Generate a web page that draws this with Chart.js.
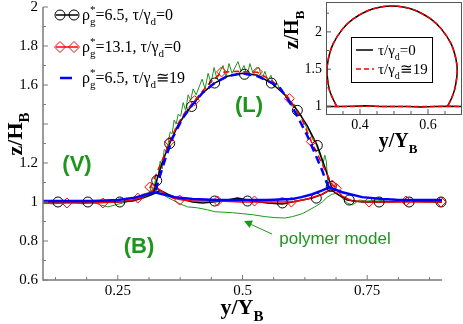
<!DOCTYPE html>
<html>
<head>
<meta charset="utf-8">
<script src="https://cdn.jsdelivr.net/npm/chart.js@4.4.1/dist/chart.umd.min.js"></script>
<style>
    body { margin: 0; background: #fff; }
    #wrap { position: relative; width: 463px; height: 324px; }
    #main { position: absolute; left: 0; top: 0; }
    #inset { position: absolute; left: 270px; top: 0; }
</style>
</head>
<body>
<div id="wrap">
    <canvas id="main" width="463" height="324"></canvas>
    <canvas id="inset" width="193" height="160"></canvas>
</div>
<script>
//Main chart data (y/Y_B -> z/H_B)

//rho*g=6.5, tau/gamma_d=0 (black, circles)
let blackBaseX = [0.10, 0.15, 0.20, 0.25, 0.28, 0.30, 0.32, 0.335, 0.35, 0.37, 0.40, 0.42, 0.44, 0.46, 0.49, 0.52, 0.55, 0.58, 0.60, 0.62, 0.64, 0.66, 0.677, 0.69, 0.71, 0.74, 0.78, 0.84, 0.90];
let blackBaseY = [1.00, 1.00, 1.00, 1.00, 1.005, 1.02, 1.04, 1.06, 1.04, 1.02, 1.00, 0.995, 1.00, 1.005, 1.02, 1.005, 0.995, 0.99, 1.00, 1.01, 1.02, 1.04, 1.065, 1.04, 1.01, 1.00, 1.00, 1.005, 1.00];
let blackCapX = [0.322, 0.328, 0.340, 0.354, 0.370, 0.385, 0.400, 0.420, 0.444, 0.470, 0.500, 0.530, 0.558, 0.585, 0.610, 0.630, 0.650, 0.665, 0.678, 0.685];
let blackCapY = [1.05, 1.11, 1.21, 1.30, 1.39, 1.45, 1.50, 1.56, 1.61, 1.645, 1.66, 1.65, 1.61, 1.55, 1.47, 1.39, 1.29, 1.18, 1.08, 1.05];
let blackMarkX = [0.130, 0.190, 0.254, 0.444, 0.510, 0.580, 0.648, 0.714, 0.774, 0.834, 0.898, 0.328, 0.354, 0.398, 0.444, 0.504, 0.558, 0.610, 0.650, 0.678];
let blackMarkY = [1.00, 1.00, 1.00, 1.005, 1.005, 0.995, 1.02, 1.01, 1.00, 1.00, 1.00, 1.11, 1.30, 1.49, 1.61, 1.655, 1.61, 1.47, 1.29, 1.08];

//rho*g=13.1, tau/gamma_d=0 (red, diamonds)
let redBaseX = [0.10, 0.15, 0.20, 0.25, 0.28, 0.30, 0.315, 0.33, 0.345, 0.36, 0.38, 0.40, 0.45, 0.50, 0.55, 0.60, 0.63, 0.66, 0.68, 0.69, 0.70, 0.72, 0.76, 0.82, 0.90];
let redBaseY = [0.995, 0.995, 0.995, 1.00, 1.01, 1.025, 1.05, 1.07, 1.04, 1.02, 1.01, 1.005, 1.005, 1.00, 1.00, 1.00, 1.015, 1.04, 1.07, 1.06, 1.03, 1.005, 1.00, 1.00, 1.00];
let redCapX = [0.314, 0.325, 0.340, 0.354, 0.370, 0.385, 0.404, 0.430, 0.458, 0.490, 0.530, 0.560, 0.594, 0.620, 0.638, 0.655, 0.668, 0.680, 0.688];
let redCapY = [1.07, 1.13, 1.22, 1.31, 1.40, 1.46, 1.52, 1.60, 1.665, 1.67, 1.665, 1.62, 1.53, 1.42, 1.31, 1.22, 1.15, 1.09, 1.07];
let redMarkX = [0.148, 0.220, 0.290, 0.374, 0.450, 0.524, 0.598, 0.688, 0.754, 0.828, 0.898, 0.314, 0.354, 0.404, 0.458, 0.530, 0.594, 0.638, 0.680];
let redMarkY = [0.995, 0.995, 1.02, 1.01, 1.005, 1.005, 1.00, 1.07, 1.00, 1.005, 1.00, 1.077, 1.31, 1.52, 1.667, 1.667, 1.53, 1.31, 1.087];

//rho*g=6.5, tau/gamma_d~19 (blue)
let blueBaseX = [0.10, 0.20, 0.25, 0.28, 0.31, 0.324, 0.34, 0.364, 0.40, 0.45, 0.484, 0.55, 0.60, 0.618, 0.64, 0.66, 0.674, 0.70, 0.74, 0.78, 0.808, 0.85, 0.90];
let blueBaseY = [1.005, 1.005, 1.01, 1.02, 1.04, 1.05, 1.04, 1.025, 1.015, 1.01, 1.01, 1.01, 1.015, 1.025, 1.04, 1.06, 1.075, 1.05, 1.025, 1.015, 1.012, 1.01, 1.01];
let blueCapX = [0.326, 0.334, 0.345, 0.36, 0.38, 0.40, 0.42, 0.444, 0.47, 0.50, 0.53, 0.56, 0.574, 0.595, 0.614, 0.63, 0.64, 0.65, 0.66, 0.667, 0.674];
let blueCapY = [1.06, 1.13, 1.22, 1.33, 1.43, 1.50, 1.56, 1.61, 1.645, 1.66, 1.645, 1.61, 1.59, 1.51, 1.42, 1.34, 1.28, 1.22, 1.16, 1.11, 1.07];

//polymer model (green)
let greenCapX = [0.312, 0.318, 0.322, 0.327, 0.331, 0.335, 0.339, 0.343, 0.347, 0.351, 0.355, 0.359, 0.363, 0.367, 0.371, 0.376, 0.381, 0.386, 0.391, 0.396, 0.401, 0.407, 0.413, 0.419, 0.425, 0.431, 0.437, 0.443, 0.449, 0.455, 0.461, 0.467, 0.473, 0.479, 0.485, 0.491, 0.497, 0.503, 0.509, 0.515, 0.521, 0.527, 0.533, 0.539, 0.545, 0.551, 0.557, 0.563, 0.569, 0.575, 0.581, 0.587, 0.593, 0.599, 0.605, 0.611, 0.617, 0.623, 0.629, 0.635, 0.641, 0.647, 0.652, 0.657, 0.661, 0.665, 0.668, 0.671, 0.675];
let greenCapY = [1.04, 1.08, 1.06, 1.14, 1.13, 1.21, 1.17, 1.27, 1.26, 1.30, 1.36, 1.35, 1.42, 1.40, 1.45, 1.44, 1.51, 1.47, 1.55, 1.52, 1.58, 1.55, 1.59, 1.63, 1.58, 1.66, 1.61, 1.69, 1.63, 1.67, 1.70, 1.64, 1.71, 1.66, 1.69, 1.72, 1.67, 1.70, 1.65, 1.71, 1.66, 1.68, 1.69, 1.63, 1.67, 1.62, 1.65, 1.59, 1.61, 1.58, 1.56, 1.54, 1.52, 1.49, 1.50, 1.44, 1.45, 1.41, 1.38, 1.36, 1.32, 1.30, 1.26, 1.23, 1.19, 1.24, 1.21, 1.10, 1.05];
let greenBaseX = [0.10, 0.12, 0.14, 0.16, 0.18, 0.20, 0.215, 0.23, 0.245, 0.26, 0.28, 0.30, 0.315, 0.33, 0.345, 0.36, 0.375, 0.39, 0.41, 0.43, 0.445, 0.46, 0.48, 0.50, 0.52, 0.545, 0.565, 0.585, 0.60, 0.62, 0.645, 0.66, 0.67, 0.68, 0.69, 0.70, 0.71, 0.72, 0.735, 0.75, 0.77, 0.80, 0.83, 0.86, 0.90];
let greenBaseY = [0.995, 0.99, 0.995, 1.00, 0.99, 1.00, 0.985, 0.975, 0.985, 0.995, 1.01, 1.04, 1.05, 1.065, 1.03, 1.01, 0.99, 0.975, 0.97, 0.96, 0.95, 0.948, 0.945, 0.94, 0.935, 0.925, 0.92, 0.918, 0.925, 0.94, 0.975, 1.00, 1.025, 1.04, 1.045, 1.02, 0.995, 0.985, 1.01, 1.005, 1.01, 1.00, 1.005, 1.00, 1.00];

//Main ticks (1.4 label sits under the axis title in the original)
let mainXTicks = [0.125, 0.1875, 0.25, 0.3125, 0.375, 0.4375, 0.5, 0.5625, 0.625, 0.6875, 0.75, 0.8125, 0.875];
let mainXLabels = [0.25, 0.5, 0.75];
let mainYTicks = [0.6, 0.7, 0.8, 0.9, 1, 1.1, 1.2, 1.3, 1.4, 1.5, 1.6, 1.7, 1.8, 1.9, 2];
let mainYMajor = [0.6, 0.8, 1, 1.2, 1.4, 1.6, 1.8, 2];
let mainYLabels = [0.6, 0.8, 1, 1.2, 1.6, 1.8, 2];

//Inset data
let insetCapX = [0.332, 0.320, 0.309, 0.303, 0.307, 0.321, 0.349, 0.380, 0.421, 0.461, 0.494, 0.527, 0.567, 0.608, 0.639, 0.668, 0.682, 0.686, 0.679, 0.669, 0.657];
let insetCapY = [1.00, 1.107, 1.24, 1.467, 1.64, 1.84, 2.04, 2.173, 2.28, 2.333, 2.347, 2.333, 2.28, 2.173, 2.04, 1.84, 1.64, 1.467, 1.24, 1.107, 1.00];
let insetBaseX = [0.30, 0.34, 0.38, 0.42, 0.46, 0.50, 0.54, 0.58, 0.62, 0.66, 0.70];
let insetBaseY0 = [1.00, 1.00, 1.005, 1.01, 1.00, 1.00, 1.00, 0.995, 1.00, 1.005, 1.00];
let insetBaseY19 = [1.00, 1.00, 1.00, 1.005, 1.00, 1.00, 1.00, 1.00, 1.00, 1.005, 1.00];
let insetXTicks = [0.35, 0.4, 0.45, 0.5, 0.55, 0.6, 0.65];
let insetXLabels = [0.4, 0.6];
let insetYTicks = [1, 1.25, 1.5, 1.75, 2, 2.25];
let insetYLabels = [1, 1.5, 2];

const SERIF = '"Liberation Serif", "Times New Roman", serif';
const SANS = '"Liberation Sans", Arial, sans-serif';
const GREEN = 'rgb(30,150,30)';
const AXIS = '#7a7a7a';

const pts = (xs, ys) => xs.map((x, i) => ({ x: x, y: ys[i] }));
const isIn = (v, list) => list.some(l => Math.abs(l - v) < 1e-6);

const line = (xs, ys, color, width, dash, tension) => ({
    data: pts(xs, ys),
    showLine: true,
    borderColor: color,
    borderWidth: width,
    borderDash: dash || [],
    pointRadius: 0,
    tension: tension || 0,
    fill: false,
});

const marks = (xs, ys, color, style, r) => ({
    data: pts(xs, ys),
    showLine: false,
    pointStyle: style,
    pointRadius: r,
    borderColor: color,
    pointBorderColor: color,
    pointBorderWidth: 1,
    backgroundColor: 'rgba(0,0,0,0)',
    pointBackgroundColor: 'rgba(0,0,0,0)',
    clip: false,
});

//Draws text with sub/superscripts. parts: [text, kind], kind '' | 'sub' | 'sup' | 'sup0' (no advance)
function drawRich(ctx, x, y, parts, size, weight, align) {
    const small = Math.round(size * 0.66);
    const fontOf = s => [weight, s + 'px', SERIF].filter(Boolean).join(' ');
    let total = 0;
    parts.forEach(p => {
        ctx.font = fontOf(p[1] ? small : size);
        if (p[1] !== 'sup0') total += ctx.measureText(p[0]).width;
    });
    let cx = align === 'center' ? x - total / 2 : x;
    ctx.textAlign = 'left';
    ctx.textBaseline = 'alphabetic';
    parts.forEach(p => {
        const k = p[1];
        ctx.font = fontOf(k ? small : size);
        let dy = 0;
        if (k === 'sub') dy = size * 0.3;
        if (k === 'sup' || k === 'sup0') dy = -size * 0.42;
        ctx.fillText(p[0], cx, y + dy);
        if (k !== 'sup0') cx += ctx.measureText(p[0]).width;
    });
}

function seg(ctx, x1, y1, x2, y2) {
    ctx.beginPath();
    ctx.moveTo(x1, y1);
    ctx.lineTo(x2, y2);
    ctx.stroke();
}

//inward tick marks on left and bottom
function drawTicks(chart, xTicks, xMajor, yTicks, yMajor) {
    const ctx = chart.ctx, a = chart.chartArea;
    ctx.lineWidth = 1;
    xTicks.forEach(v => {
        const px = chart.scales.x.getPixelForValue(v);
        seg(ctx, px, a.bottom, px, a.bottom - (isIn(v, xMajor) ? 5 : 3));
    });
    yTicks.forEach(v => {
        const py = chart.scales.y.getPixelForValue(v);
        seg(ctx, a.left, py, a.left + (isIn(v, yMajor) ? 5 : 3), py);
    });
}

function legendMark(ctx, kind, x, y, color) {
    ctx.strokeStyle = color;
    ctx.lineWidth = 1;
    ctx.beginPath();
    if (kind === 'circle') {
        ctx.arc(x, y, 5, 0, Math.PI * 2);
    } else {
        ctx.moveTo(x, y - 5.5); ctx.lineTo(x + 5.5, y); ctx.lineTo(x, y + 5.5); ctx.lineTo(x - 5.5, y);
        ctx.closePath();
    }
    ctx.stroke();
}

const mainDecor = {
    id: 'mainDecor',
    afterDraw(chart) {
        const ctx = chart.ctx, a = chart.chartArea;
        ctx.save();
        //axes
        ctx.strokeStyle = AXIS;
        ctx.lineWidth = 1.5;
        ctx.beginPath();
        ctx.moveTo(a.left, a.top); ctx.lineTo(a.left, a.bottom); ctx.lineTo(a.right, a.bottom);
        ctx.stroke();
        drawTicks(chart, mainXTicks, mainXLabels, mainYTicks, mainYMajor);

        //axis titles
        ctx.fillStyle = '#000';
        drawRich(ctx, 242, 314, [['y/Y', ''], ['B', 'sub']], 22, 'bold', 'center');
        ctx.save();
        ctx.translate(22, 134);
        ctx.rotate(-Math.PI / 2);
        drawRich(ctx, 0, 0, [['z/H', ''], ['B', 'sub']], 22, 'bold', 'center');
        ctx.restore();

        //region labels
        ctx.fillStyle = GREEN;
        ctx.font = 'bold 22px ' + SANS;
        ctx.textAlign = 'center';
        ctx.textBaseline = 'middle';
        ctx.fillText('(L)', 249, 106);
        ctx.fillText('(V)', 77, 165);
        ctx.fillText('(B)', 139, 247);
        ctx.font = '17px ' + SANS;
        ctx.fillText('polymer model', 335, 239);
        ctx.strokeStyle = GREEN;
        ctx.lineWidth = 1;
        seg(ctx, 272, 234, 250, 224);
        ctx.beginPath();
        ctx.moveTo(244, 221); ctx.lineTo(253, 220.5); ctx.lineTo(249.7, 228);
        ctx.closePath();
        ctx.fill();

        //legend
        const rows = [
            { y: 15, color: '#000', mark: 'circle', parts: [['ρ', ''], ['*', 'sup0'], ['g', 'sub'], ['=6.5, τ/γ', ''], ['d', 'sub'], ['=0', '']] },
            { y: 47, color: '#ff0000', mark: 'diamond', parts: [['ρ', ''], ['*', 'sup0'], ['g', 'sub'], ['=13.1, τ/γ', ''], ['d', 'sub'], ['=0', '']] },
            { y: 78, color: '#0000ff', mark: null, parts: [['ρ', ''], ['*', 'sup0'], ['g', 'sub'], ['=6.5, τ/γ', ''], ['d', 'sub'], ['≅19', '']] },
        ];
        rows.forEach(r => {
            ctx.strokeStyle = r.color;
            ctx.lineWidth = r.mark ? 1.5 : 2.5;
            seg(ctx, r.mark ? 56 : 60, r.y, r.mark ? 78 : 72, r.y);
            if (r.mark) {
                legendMark(ctx, r.mark, 60, r.y, r.color);
                legendMark(ctx, r.mark, 74, r.y, r.color);
            }
            ctx.fillStyle = '#000';
            drawRich(ctx, 82, r.y + 5, r.parts, 16, '', 'left');
        });
        ctx.restore();
    }
};

const insetDecor = {
    id: 'insetDecor',
    beforeDatasetsDraw(chart) {
        const ctx = chart.ctx, a = chart.chartArea;
        ctx.save();
        ctx.fillStyle = '#fff';
        ctx.fillRect(a.left, a.top, a.right - a.left, a.bottom - a.top);
        ctx.restore();
    },
    afterDraw(chart) {
        const ctx = chart.ctx, a = chart.chartArea;
        ctx.save();
        ctx.strokeStyle = '#555';
        ctx.lineWidth = 1;
        ctx.strokeRect(a.left + 0.5, a.top + 0.5, a.right - a.left - 1, a.bottom - a.top);
        drawTicks(chart, insetXTicks, insetXLabels, insetYTicks, insetYLabels);

        ctx.fillStyle = '#000';
        drawRich(ctx, 128, 147, [['y/Y', ''], ['B', 'sub']], 20, 'bold', 'center');
        ctx.save();
        ctx.translate(28, 30);
        ctx.rotate(-Math.PI / 2);
        drawRich(ctx, 0, 0, [['z/H', ''], ['B', 'sub']], 20, 'bold', 'center');
        ctx.restore();

        //inset legend
        ctx.fillStyle = '#fff';
        ctx.fillRect(81, 37, 81, 45);
        ctx.strokeStyle = '#000';
        ctx.strokeRect(81.5, 37.5, 81, 45);
        ctx.lineWidth = 1.5;
        ctx.strokeStyle = '#000';
        seg(ctx, 86, 50, 103, 50);
        ctx.strokeStyle = '#ff0000';
        ctx.setLineDash([5, 3]);
        seg(ctx, 86, 69, 104, 69);
        ctx.setLineDash([]);
        ctx.fillStyle = '#000';
        drawRich(ctx, 108, 55, [['τ/γ', ''], ['d', 'sub'], ['=0', '']], 15, '', 'left');
        drawRich(ctx, 108, 74, [['τ/γ', ''], ['d', 'sub'], ['≅19', '']], 15, '', 'left');
        ctx.restore();
    }
};

const scaleBase = (min, max, tickList, labelList, pad, size) => ({
    type: 'linear',
    min: min,
    max: max,
    grid: { display: false, drawTicks: false },
    border: { display: false },
    afterBuildTicks: s => { s.ticks = tickList.map(v => ({ value: v })); },
    ticks: {
        autoSkip: false,
        maxRotation: 0,
        padding: pad,
        color: '#000',
        font: { family: SERIF, size: size },
        callback: v => isIn(v, labelList) ? String(v) : '',
    },
});

//Main chart
let mainX = scaleBase(0.1, 0.9, mainXTicks, mainXLabels, 2, 15);
mainX.afterFit = s => { s.height = 44; s.paddingLeft = 0; s.paddingRight = 0; };
let mainY = scaleBase(0.6, 2, mainYTicks, mainYLabels, 5, 15);
mainY.afterFit = s => { s.width = 43; s.paddingTop = 0; s.paddingBottom = 0; };

const mainChart = new Chart(document.getElementById('main'), {
    type: 'scatter',
    data: {
        datasets: [
            line(blueBaseX, blueBaseY, '#0000ff', 2.5),
            line(blueCapX, blueCapY, '#0000ff', 2.5, [8, 5]),
            marks(redMarkX, redMarkY, '#ff0000', 'rectRot', 5),
            marks(blackMarkX, blackMarkY, '#000', 'circle', 5),
            line(redCapX, redCapY, '#ff0000', 1.5, [6, 4]),
            line(blackCapX, blackCapY, '#000', 1.5),
            line(redBaseX, redBaseY, '#ff0000', 1.5),
            line(blackBaseX, blackBaseY, '#000', 1.5),
            line(greenCapX, greenCapY, GREEN, 1),
            line(greenBaseX, greenBaseY, GREEN, 1),
        ]
    },
    options: {
        responsive: false,
        animation: false,
        devicePixelRatio: 1,
        events: [],
        layout: { padding: { left: 0, top: 7, right: 21, bottom: 0 } },
        plugins: { legend: { display: false }, tooltip: { enabled: false } },
        scales: { x: mainX, y: mainY },
    },
    plugins: [mainDecor],
});

//Inset chart
let insetX = scaleBase(0.3, 0.7, insetXTicks, insetXLabels, 3, 14);
insetX.afterFit = s => { s.height = 46; s.paddingLeft = 0; s.paddingRight = 0; };
let insetY = scaleBase(0.9, 2.4, insetYTicks, insetYLabels, 4, 14);
insetY.afterFit = s => { s.width = 56; s.paddingTop = 0; s.paddingBottom = 0; };

const insetChart = new Chart(document.getElementById('inset'), {
    type: 'scatter',
    data: {
        datasets: [
            line(insetCapX, insetCapY, '#ff0000', 1.5, [5, 3], 0.3),
            line(insetBaseX, insetBaseY19, '#ff0000', 1.5, [5, 3]),
            line(insetCapX, insetCapY, '#000', 1.5, null, 0.3),
            line(insetBaseX, insetBaseY0, '#000', 1.5),
        ]
    },
    options: {
        responsive: false,
        animation: false,
        devicePixelRatio: 1,
        events: [],
        layout: { padding: { left: 0, top: 2, right: 1, bottom: 0 } },
        plugins: { legend: { display: false }, tooltip: { enabled: false } },
        scales: { x: insetX, y: insetY },
    },
    plugins: [insetDecor],
});
</script>
</body>
</html>
